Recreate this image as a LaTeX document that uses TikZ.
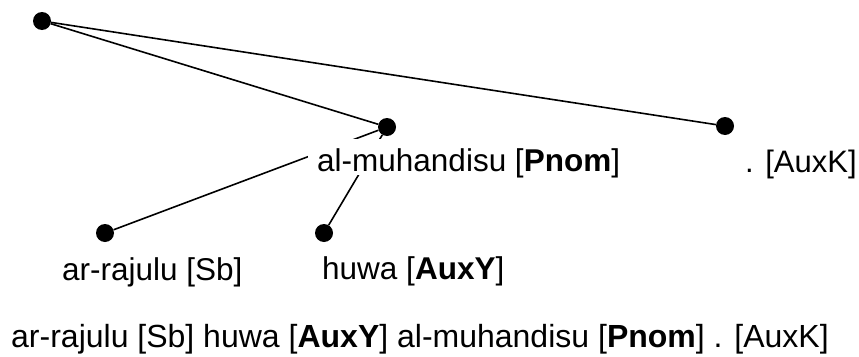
\documentclass[tikz,border=0pt]{standalone}
\usepackage{fontspec}
\setmainfont{Liberation Sans}
\begin{document}
\begin{tikzpicture}[x=1pt,y=-1pt,
  dot/.style={circle,fill=black,minimum size=18pt,inner sep=0pt},
  edge/.style={line width=1.6pt},
  lbl/.style={anchor=base west,inner sep=0pt,font=\fontsize{31.5}{36}\selectfont},
  masklbl/.style={anchor=base west,fill=white,inner xsep=9pt,inner ysep=0pt,text height=32pt,text depth=4pt,font=\fontsize{31.5}{36}\selectfont}]
\useasboundingbox (0,0) rectangle (859,356);
\node[dot] (root) at (42,21) {};
\node[dot] (mu) at (387,127) {};
\node[dot] (auxk) at (725,126) {};
\node[dot] (sb) at (105,233) {};
\node[dot] (auxy) at (324,233) {};
\draw[edge] (root) -- (mu);
\draw[edge] (root) -- (auxk);
\draw[edge] (mu) -- (sb);
\draw[edge] (mu) -- (auxy);
\node[masklbl] (mulbl) at (308,171) {al-muhandisu [\textbf{Pnom}]};
\node[lbl,font=\fontsize{31}{36}\selectfont] (auxklbl) at (745,172) {. [AuxK]};
\node[lbl] (sblbl) at (62,280) {ar-rajulu [Sb]};
\node[lbl] (auxylbl) at (322,279) {huwa [\textbf{AuxY}]};
\node[lbl,font=\fontsize{32}{36}\selectfont] (sent) at (11,347) {ar-rajulu [Sb] huwa [\textbf{AuxY}] al-muhandisu [\textbf{Pnom}] . [AuxK]};
\end{tikzpicture}
\end{document}
